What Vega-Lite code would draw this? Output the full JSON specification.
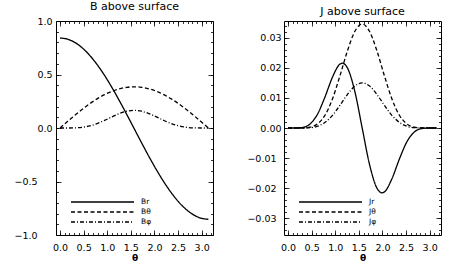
{
  "$schema": "https://vega.github.io/schema/vega-lite/v6.json",
  "background": "white",
  "padding": {"left": 13, "top": 0, "right": 5, "bottom": 5},
  "spacing": 32,
  "config": {
    "view": {"stroke": "black", "strokeWidth": 1},
    "font": "DejaVu Sans",
    "axis": {"domain": false, "grid": false, "labelFont": "DejaVu Sans", "labelFontSize": 9.5, "labelColor": "black", "tickColor": "black", "tickWidth": 0.8, "titleFont": "DejaVu Sans", "titleFontSize": 9, "titleFontWeight": "bold", "titleColor": "black", "labelOverlap": false, "labelFlush": false, "labelBound": false},
    "title": {"font": "DejaVu Sans", "fontSize": 11, "fontWeight": "normal", "color": "black", "offset": 4, "anchor": "middle", "frame": "group"},
    "legend": {"orient": "bottom-left", "title": null, "symbolType": "M0,0H12.6", "symbolSize": 100, "symbolStrokeColor": "black", "symbolStrokeWidth": 1.3, "symbolFillColor": "transparent", "labelFont": "DejaVu Sans", "labelFontSize": 7.5, "labelColor": "#000000", "labelOffset": 64, "rowPadding": 0, "padding": 0, "offset": 9}
  },
  "datasets": {
    "B": [
      {"theta": 0, "value": 0.841, "series": "Br"},
      {"theta": 0.1571, "value": 0.8306, "series": "Br"},
      {"theta": 0.3142, "value": 0.7995, "series": "Br"},
      {"theta": 0.4712, "value": 0.7487, "series": "Br"},
      {"theta": 0.6283, "value": 0.6792, "series": "Br"},
      {"theta": 0.7854, "value": 0.5929, "series": "Br"},
      {"theta": 0.9425, "value": 0.4919, "series": "Br"},
      {"theta": 1.0996, "value": 0.3785, "series": "Br"},
      {"theta": 1.2566, "value": 0.2557, "series": "Br"},
      {"theta": 1.4137, "value": 0.1265, "series": "Br"},
      {"theta": 1.5708, "value": -0.006, "series": "Br"},
      {"theta": 1.7279, "value": -0.1385, "series": "Br"},
      {"theta": 1.885, "value": -0.2677, "series": "Br"},
      {"theta": 2.042, "value": -0.3905, "series": "Br"},
      {"theta": 2.1991, "value": -0.5039, "series": "Br"},
      {"theta": 2.3562, "value": -0.6049, "series": "Br"},
      {"theta": 2.5133, "value": -0.6912, "series": "Br"},
      {"theta": 2.6704, "value": -0.7607, "series": "Br"},
      {"theta": 2.8274, "value": -0.8115, "series": "Br"},
      {"theta": 2.9845, "value": -0.8426, "series": "Br"},
      {"theta": 3.1416, "value": -0.853, "series": "Br"},
      {"theta": 0, "value": 0, "series": "Bθ"},
      {"theta": 0.1571, "value": 0.0602, "series": "Bθ"},
      {"theta": 0.3142, "value": 0.119, "series": "Bθ"},
      {"theta": 0.4712, "value": 0.1748, "series": "Bθ"},
      {"theta": 0.6283, "value": 0.2263, "series": "Bθ"},
      {"theta": 0.7854, "value": 0.2722, "series": "Bθ"},
      {"theta": 0.9425, "value": 0.3115, "series": "Bθ"},
      {"theta": 1.0996, "value": 0.343, "series": "Bθ"},
      {"theta": 1.2566, "value": 0.3662, "series": "Bθ"},
      {"theta": 1.4137, "value": 0.3803, "series": "Bθ"},
      {"theta": 1.5708, "value": 0.385, "series": "Bθ"},
      {"theta": 1.7279, "value": 0.3803, "series": "Bθ"},
      {"theta": 1.885, "value": 0.3662, "series": "Bθ"},
      {"theta": 2.042, "value": 0.343, "series": "Bθ"},
      {"theta": 2.1991, "value": 0.3115, "series": "Bθ"},
      {"theta": 2.3562, "value": 0.2722, "series": "Bθ"},
      {"theta": 2.5133, "value": 0.2263, "series": "Bθ"},
      {"theta": 2.6704, "value": 0.1748, "series": "Bθ"},
      {"theta": 2.8274, "value": 0.119, "series": "Bθ"},
      {"theta": 2.9845, "value": 0.0602, "series": "Bθ"},
      {"theta": 3.1416, "value": 0, "series": "Bθ"},
      {"theta": 0, "value": 0, "series": "Bφ"},
      {"theta": 0.1571, "value": 0.0001, "series": "Bφ"},
      {"theta": 0.3142, "value": 0.0015, "series": "Bφ"},
      {"theta": 0.4712, "value": 0.007, "series": "Bφ"},
      {"theta": 0.6283, "value": 0.0197, "series": "Bφ"},
      {"theta": 0.7854, "value": 0.0413, "series": "Bφ"},
      {"theta": 0.9425, "value": 0.0707, "series": "Bφ"},
      {"theta": 1.0996, "value": 0.104, "series": "Bφ"},
      {"theta": 1.2566, "value": 0.135, "series": "Bφ"},
      {"theta": 1.4137, "value": 0.157, "series": "Bφ"},
      {"theta": 1.5708, "value": 0.165, "series": "Bφ"},
      {"theta": 1.7279, "value": 0.157, "series": "Bφ"},
      {"theta": 1.885, "value": 0.135, "series": "Bφ"},
      {"theta": 2.042, "value": 0.104, "series": "Bφ"},
      {"theta": 2.1991, "value": 0.0707, "series": "Bφ"},
      {"theta": 2.3562, "value": 0.0413, "series": "Bφ"},
      {"theta": 2.5133, "value": 0.0197, "series": "Bφ"},
      {"theta": 2.6704, "value": 0.007, "series": "Bφ"},
      {"theta": 2.8274, "value": 0.0015, "series": "Bφ"},
      {"theta": 2.9845, "value": 0.0001, "series": "Bφ"},
      {"theta": 3.1416, "value": 0, "series": "Bφ"}
    ],
    "J": [
      {"theta": 0, "value": 0, "series": "Jr"},
      {"theta": 0.1571, "value": 0, "series": "Jr"},
      {"theta": 0.3142, "value": 0.0002, "series": "Jr"},
      {"theta": 0.4712, "value": 0.0014, "series": "Jr"},
      {"theta": 0.6283, "value": 0.0047, "series": "Jr"},
      {"theta": 0.7854, "value": 0.0104, "series": "Jr"},
      {"theta": 0.9425, "value": 0.0169, "series": "Jr"},
      {"theta": 1.0996, "value": 0.0212, "series": "Jr"},
      {"theta": 1.15, "value": 0.0215, "series": "Jr"},
      {"theta": 1.2566, "value": 0.02, "series": "Jr"},
      {"theta": 1.4137, "value": 0.0122, "series": "Jr"},
      {"theta": 1.5708, "value": 0, "series": "Jr"},
      {"theta": 1.7279, "value": -0.0122, "series": "Jr"},
      {"theta": 1.885, "value": -0.02, "series": "Jr"},
      {"theta": 1.99, "value": -0.0215, "series": "Jr"},
      {"theta": 2.042, "value": -0.0212, "series": "Jr"},
      {"theta": 2.1991, "value": -0.0169, "series": "Jr"},
      {"theta": 2.3562, "value": -0.0104, "series": "Jr"},
      {"theta": 2.5133, "value": -0.0047, "series": "Jr"},
      {"theta": 2.6704, "value": -0.0014, "series": "Jr"},
      {"theta": 2.8274, "value": -0.0002, "series": "Jr"},
      {"theta": 2.9845, "value": 0, "series": "Jr"},
      {"theta": 3.1416, "value": 0, "series": "Jr"},
      {"theta": 0, "value": 0, "series": "Jθ"},
      {"theta": 0.1571, "value": 0, "series": "Jθ"},
      {"theta": 0.3142, "value": 0, "series": "Jθ"},
      {"theta": 0.4712, "value": 0.0003, "series": "Jθ"},
      {"theta": 0.6283, "value": 0.0014, "series": "Jθ"},
      {"theta": 0.7854, "value": 0.0043, "series": "Jθ"},
      {"theta": 0.9425, "value": 0.0097, "series": "Jθ"},
      {"theta": 1.0996, "value": 0.0173, "series": "Jθ"},
      {"theta": 1.2566, "value": 0.0255, "series": "Jθ"},
      {"theta": 1.4137, "value": 0.032, "series": "Jθ"},
      {"theta": 1.5708, "value": 0.0345, "series": "Jθ"},
      {"theta": 1.7279, "value": 0.032, "series": "Jθ"},
      {"theta": 1.885, "value": 0.0255, "series": "Jθ"},
      {"theta": 2.042, "value": 0.0173, "series": "Jθ"},
      {"theta": 2.1991, "value": 0.0097, "series": "Jθ"},
      {"theta": 2.3562, "value": 0.0043, "series": "Jθ"},
      {"theta": 2.5133, "value": 0.0014, "series": "Jθ"},
      {"theta": 2.6704, "value": 0.0003, "series": "Jθ"},
      {"theta": 2.8274, "value": 0, "series": "Jθ"},
      {"theta": 2.9845, "value": 0, "series": "Jθ"},
      {"theta": 3.1416, "value": 0, "series": "Jθ"},
      {"theta": 0, "value": 0, "series": "Jφ"},
      {"theta": 0.1571, "value": 0, "series": "Jφ"},
      {"theta": 0.3142, "value": 0, "series": "Jφ"},
      {"theta": 0.4712, "value": 0.0001, "series": "Jφ"},
      {"theta": 0.6283, "value": 0.0006, "series": "Jφ"},
      {"theta": 0.7854, "value": 0.0019, "series": "Jφ"},
      {"theta": 0.9425, "value": 0.0042, "series": "Jφ"},
      {"theta": 1.0996, "value": 0.0075, "series": "Jφ"},
      {"theta": 1.2566, "value": 0.0111, "series": "Jφ"},
      {"theta": 1.4137, "value": 0.0139, "series": "Jφ"},
      {"theta": 1.5708, "value": 0.015, "series": "Jφ"},
      {"theta": 1.7279, "value": 0.0139, "series": "Jφ"},
      {"theta": 1.885, "value": 0.0111, "series": "Jφ"},
      {"theta": 2.042, "value": 0.0075, "series": "Jφ"},
      {"theta": 2.1991, "value": 0.0042, "series": "Jφ"},
      {"theta": 2.3562, "value": 0.0019, "series": "Jφ"},
      {"theta": 2.5133, "value": 0.0006, "series": "Jφ"},
      {"theta": 2.6704, "value": 0.0001, "series": "Jφ"},
      {"theta": 2.8274, "value": 0, "series": "Jφ"},
      {"theta": 2.9845, "value": 0, "series": "Jφ"},
      {"theta": 3.1416, "value": 0, "series": "Jφ"}
    ]
  },
  "resolve": {"scale": {"strokeDash": "independent"}, "legend": {"strokeDash": "independent"}},
  "hconcat": [
    {
      "title": "B above surface",
      "width": 157,
      "height": 214,
      "data": {"name": "B"},
      "resolve": {"axis": {"x": "independent", "y": "independent"}},
      "layer": [
        {
          "mark": {"type": "line", "color": "black", "strokeWidth": 1.3, "interpolate": "monotone"},
          "encoding": {
            "x": {"field": "theta", "type": "quantitative", "scale": {"domain": [-0.085, 3.24], "nice": false, "zero": false},
              "axis": {"orient": "bottom", "title": "θ", "titlePadding": 2, "offset": -5, "tickSize": 5, "labelPadding": 7, "format": ".1f",
                "values": [0, 0.5, 1, 1.5, 2, 2.5, 3]}},
            "y": {"field": "value", "type": "quantitative", "scale": {"domain": [-1, 1], "nice": false, "zero": false},
              "axis": {"orient": "left", "title": null, "offset": -5, "tickSize": 5, "format": ".1f",
                "values": [-1, -0.5, 0, 0.5, 1],
                "labelPadding": {"condition": {"test": "datum.value < 0", "value": 19}, "value": 4}}},
            "strokeDash": {"field": "series", "type": "nominal", "sort": ["Br", "Bθ", "Bφ"],
              "scale": {"domain": ["Br", "Bθ", "Bφ"], "range": [[1, 0], [4, 2.5], [4, 2, 1, 2]]},
              "legend": {"labelColor": "#000000", "symbolStrokeColor": "black"}}
          }
        },
        {
          "mark": {"type": "line", "opacity": 0},
          "encoding": {
            "x": {"field": "theta", "type": "quantitative", "scale": {"domain": [-0.085, 3.24], "nice": false, "zero": false},
              "axis": {"orient": "bottom", "title": null, "labels": false, "offset": -2.5, "tickSize": 2.5,
                "values": [0,0.1,0.2,0.3,0.4,0.5,0.6,0.7,0.8,0.9,1,1.1,1.2,1.3,1.4,1.5,1.6,1.7,1.8,1.9,2,2.1,2.2,2.3,2.4,2.5,2.6,2.7,2.8,2.9,3,3.1,3.2]}},
            "y": {"field": "value", "type": "quantitative", "scale": {"domain": [-1, 1], "nice": false, "zero": false},
              "axis": {"orient": "left", "title": null, "labels": false, "offset": -2.5, "tickSize": 2.5,
                "values": [-1,-0.9,-0.8,-0.7,-0.6,-0.5,-0.4,-0.3,-0.2,-0.1,0,0.1,0.2,0.3,0.4,0.5,0.6,0.7,0.8,0.9,1]}},
            "detail": {"field": "series"}
          }
        },
        {
          "mark": {"type": "line", "opacity": 0},
          "encoding": {
            "x": {"field": "theta", "type": "quantitative", "scale": {"domain": [-0.085, 3.24], "nice": false, "zero": false},
              "axis": {"orient": "top", "title": null, "labels": false, "offset": -5, "tickSize": 5,
                "values": [0, 0.5, 1, 1.5, 2, 2.5, 3]}},
            "y": {"field": "value", "type": "quantitative", "scale": {"domain": [-1, 1], "nice": false, "zero": false},
              "axis": {"orient": "right", "title": null, "labels": false, "offset": -5, "tickSize": 5,
                "values": [-1, -0.5, 0, 0.5, 1]}},
            "detail": {"field": "series"}
          }
        },
        {
          "mark": {"type": "line", "opacity": 0},
          "encoding": {
            "x": {"field": "theta", "type": "quantitative", "scale": {"domain": [-0.085, 3.24], "nice": false, "zero": false},
              "axis": {"orient": "top", "title": null, "labels": false, "offset": -2.5, "tickSize": 2.5,
                "values": [0,0.1,0.2,0.3,0.4,0.5,0.6,0.7,0.8,0.9,1,1.1,1.2,1.3,1.4,1.5,1.6,1.7,1.8,1.9,2,2.1,2.2,2.3,2.4,2.5,2.6,2.7,2.8,2.9,3,3.1,3.2]}},
            "y": {"field": "value", "type": "quantitative", "scale": {"domain": [-1, 1], "nice": false, "zero": false},
              "axis": {"orient": "right", "title": null, "labels": false, "offset": -2.5, "tickSize": 2.5,
                "values": [-1,-0.9,-0.8,-0.7,-0.6,-0.5,-0.4,-0.3,-0.2,-0.1,0,0.1,0.2,0.3,0.4,0.5,0.6,0.7,0.8,0.9,1]}},
            "detail": {"field": "series"}
          }
        }
      ]
    },
    {
      "title": "J above surface",
      "width": 157,
      "height": 214,
      "data": {"name": "J"},
      "resolve": {"axis": {"x": "independent", "y": "independent"}},
      "layer": [
        {
          "mark": {"type": "line", "color": "black", "strokeWidth": 1.3, "interpolate": "monotone"},
          "encoding": {
            "x": {"field": "theta", "type": "quantitative", "scale": {"domain": [-0.085, 3.24], "nice": false, "zero": false},
              "axis": {"orient": "bottom", "title": "θ", "titlePadding": 2, "offset": -5, "tickSize": 5, "labelPadding": 7, "format": ".1f",
                "values": [0, 0.5, 1, 1.5, 2, 2.5, 3]}},
            "y": {"field": "value", "type": "quantitative", "scale": {"domain": [-0.0355, 0.0355], "nice": false, "zero": false},
              "axis": {"orient": "left", "title": null, "offset": -5, "tickSize": 5, "format": ".2f",
                "values": [-0.03, -0.02, -0.01, 0, 0.01, 0.02, 0.03],
                "labelPadding": {"condition": {"test": "datum.value < 0", "value": 8}, "value": 3}}},
            "strokeDash": {"field": "series", "type": "nominal", "sort": ["Jr", "Jθ", "Jφ"],
              "scale": {"domain": ["Jr", "Jθ", "Jφ"], "range": [[1, 0], [4, 2.5], [4, 2, 1, 2]]},
              "legend": {"labelColor": "#000000", "symbolStrokeColor": "black"}}
          }
        },
        {
          "mark": {"type": "line", "opacity": 0},
          "encoding": {
            "x": {"field": "theta", "type": "quantitative", "scale": {"domain": [-0.085, 3.24], "nice": false, "zero": false},
              "axis": {"orient": "bottom", "title": null, "labels": false, "offset": -2.5, "tickSize": 2.5,
                "values": [0,0.1,0.2,0.3,0.4,0.5,0.6,0.7,0.8,0.9,1,1.1,1.2,1.3,1.4,1.5,1.6,1.7,1.8,1.9,2,2.1,2.2,2.3,2.4,2.5,2.6,2.7,2.8,2.9,3,3.1,3.2]}},
            "y": {"field": "value", "type": "quantitative", "scale": {"domain": [-0.0355, 0.0355], "nice": false, "zero": false},
              "axis": {"orient": "left", "title": null, "labels": false, "offset": -2.5, "tickSize": 2.5,
                "values": [-0.034,-0.032,-0.03,-0.028,-0.026,-0.024,-0.022,-0.02,-0.018,-0.016,-0.014,-0.012,-0.01,-0.008,-0.006,-0.004,-0.002,0,0.002,0.004,0.006,0.008,0.01,0.012,0.014,0.016,0.018,0.02,0.022,0.024,0.026,0.028,0.03,0.032,0.034]}},
            "detail": {"field": "series"}
          }
        },
        {
          "mark": {"type": "line", "opacity": 0},
          "encoding": {
            "x": {"field": "theta", "type": "quantitative", "scale": {"domain": [-0.085, 3.24], "nice": false, "zero": false},
              "axis": {"orient": "top", "title": null, "labels": false, "offset": -5, "tickSize": 5,
                "values": [0, 0.5, 1, 1.5, 2, 2.5, 3]}},
            "y": {"field": "value", "type": "quantitative", "scale": {"domain": [-0.0355, 0.0355], "nice": false, "zero": false},
              "axis": {"orient": "right", "title": null, "labels": false, "offset": -5, "tickSize": 5,
                "values": [-0.03, -0.02, -0.01, 0, 0.01, 0.02, 0.03]}},
            "detail": {"field": "series"}
          }
        },
        {
          "mark": {"type": "line", "opacity": 0},
          "encoding": {
            "x": {"field": "theta", "type": "quantitative", "scale": {"domain": [-0.085, 3.24], "nice": false, "zero": false},
              "axis": {"orient": "top", "title": null, "labels": false, "offset": -2.5, "tickSize": 2.5,
                "values": [0,0.1,0.2,0.3,0.4,0.5,0.6,0.7,0.8,0.9,1,1.1,1.2,1.3,1.4,1.5,1.6,1.7,1.8,1.9,2,2.1,2.2,2.3,2.4,2.5,2.6,2.7,2.8,2.9,3,3.1,3.2]}},
            "y": {"field": "value", "type": "quantitative", "scale": {"domain": [-0.0355, 0.0355], "nice": false, "zero": false},
              "axis": {"orient": "right", "title": null, "labels": false, "offset": -2.5, "tickSize": 2.5,
                "values": [-0.034,-0.032,-0.03,-0.028,-0.026,-0.024,-0.022,-0.02,-0.018,-0.016,-0.014,-0.012,-0.01,-0.008,-0.006,-0.004,-0.002,0,0.002,0.004,0.006,0.008,0.01,0.012,0.014,0.016,0.018,0.02,0.022,0.024,0.026,0.028,0.03,0.032,0.034]}},
            "detail": {"field": "series"}
          }
        }
      ]
    }
  ]
}
